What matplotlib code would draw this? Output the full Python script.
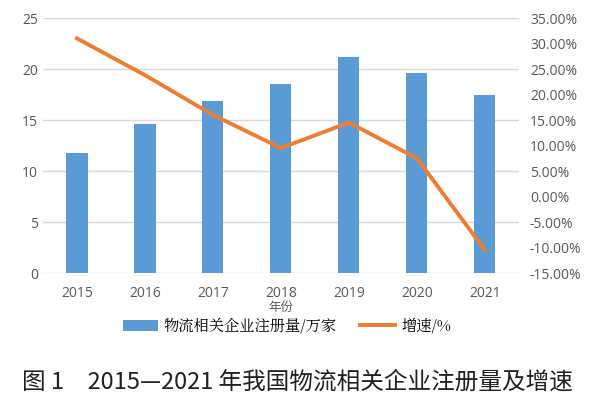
import numpy as np
import matplotlib
matplotlib.use('Agg')
import matplotlib.pyplot as plt
from matplotlib.ticker import FuncFormatter

plt.rcParams['font.family'] = ['Open Sans', 'Noto Sans CJK SC', 'DejaVu Sans']

# 数据
years = ['2015', '2016', '2017', '2018', '2019', '2020', '2021']
registrations = [11.8, 14.6, 16.9, 18.5, 21.2, 19.6, 17.5]  # 万家
growth = [31.0, 23.8, 16.0, 9.5, 14.5, 7.5, -10.5]  # %

bar_color = '#5B9BD5'
line_color = '#ED7D31'
tick_color = '#595959'

fig = plt.figure(figsize=(6.0, 3.97), dpi=100)
ax = fig.add_axes([0.0717, 0.3123, 0.793, 0.6423])

x = np.arange(len(years))
bars = ax.bar(x, registrations, width=0.31, color=bar_color, zorder=2,
              label='物流相关企业注册量/万家')
ax.set_ylim(0, 25)
ax.set_yticks(range(0, 26, 5))
ax.set_xlim(-0.5, len(years) - 0.5)
ax.set_xticks(x)
ax.set_xticklabels(years)
ax.grid(axis='y', color='#D9D9D9', linewidth=1, zorder=0)
for s in ax.spines.values():
    s.set_visible(False)
ax.tick_params(length=0, colors=tick_color, labelsize=10)
ax.tick_params(axis='x', pad=9)
ax.set_xlabel('年份', fontsize=9, color=tick_color, labelpad=0,
              family=['Noto Sans CJK SC'])

ax2 = ax.twinx()
line, = ax2.plot(x, growth, color=line_color, linewidth=2.8, zorder=3,
                 label='增速/%')
ax2.set_ylim(-15, 35)
ax2.set_yticks(range(-15, 36, 5))
ax2.yaxis.set_major_formatter(FuncFormatter(lambda v, p: f'{v:.2f}%'))
for s in ax2.spines.values():
    s.set_visible(False)
ax2.tick_params(length=0, colors=tick_color, labelsize=10, pad=8)

fig.legend(handles=[bars, line], loc='center', bbox_to_anchor=(0.478, 0.178),
           ncol=2, frameon=False, handlelength=2.3, handletextpad=0.4,
           columnspacing=1.5,
           prop={'family': ['Noto Serif CJK SC', 'Noto Sans CJK SC'], 'size': 11})

fig.text(0.037, 0.038, '图 1　2015—2021 年我国物流相关企业注册量及增速',
         fontsize=17, color='#231F20', ha='left', va='center',
         weight='medium', family=['Noto Sans CJK SC'])

fig.savefig('out.png', dpi=100)
